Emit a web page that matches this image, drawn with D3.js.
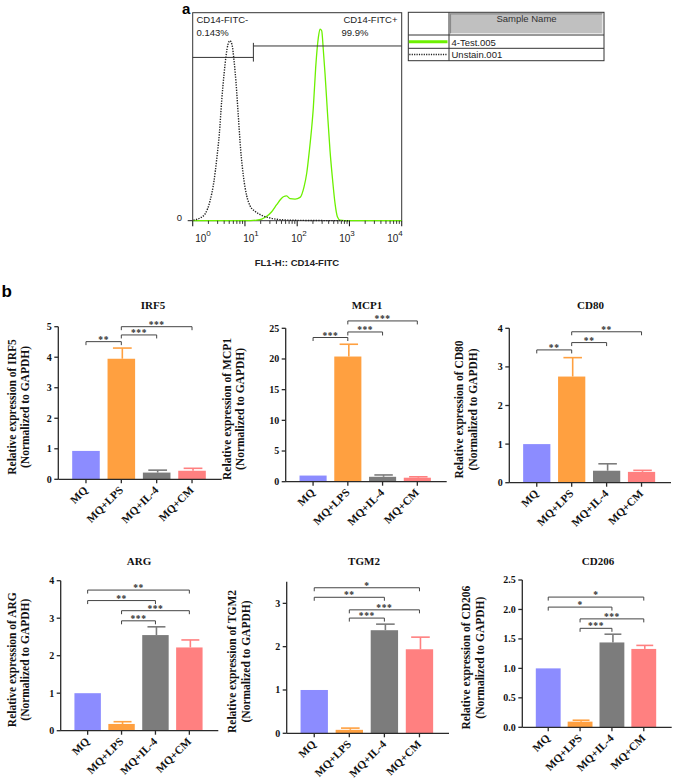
<!DOCTYPE html>
<html><head><meta charset="utf-8">
<script src="https://cdn.jsdelivr.net/npm/d3@7"></script>
<style>body{margin:0;background:#fff} svg{display:block}</style>
</head><body>
<svg id="c" width="675" height="781"></svg>
<script>
// ---------- DATA ----------
// panel a: flow cytometry histograms (FL1-H intensity, % of max count)
const greenFL    = [1, 10, 16.8, 20.9, 26.1, 32.5, 40.5, 48.3, 54.4, 62.9, 72.9, 90.9, 113.3, 135.2, 152.1, 171, 189.7, 203.7, 225.9, 254.1, 273.5, 294.4, 316.9, 341.2, 377.6, 424.6, 477.5, 529.7, 587.5, 660.7, 1000, 10000];
const greenCount = [0, 0, 0.3, 0.8, 2.1, 4.3, 7.7, 10.3, 11.5, 11.9, 10.6, 10.4, 11.2, 16.3, 22.8, 33.7, 44.9, 54.5, 73.7, 88.1, 92.1, 91.3, 81.7, 70.5, 52.9, 33.7, 19.2, 8.3, 1.9, 0.3, 0, 0];
const unstainFL    = [1.03, 1.38, 1.72, 2.15, 2.56, 2.88, 3.24, 3.59, 3.98, 4.35, 4.75, 5.18, 5.66, 6.18, 6.75, 7.48, 8.29, 9.33, 10.8, 12.5, 15.6, 20.9, 30.2, 46.9, 84.5, 1026];
const unstainCount = [0.3, 1.3, 3.2, 9.6, 19.2, 29.5, 42, 57.7, 70.5, 79.3, 84.9, 86.5, 84.6, 77, 66.3, 50, 34, 21.5, 12, 7.2, 4.5, 2.6, 1.3, 0.5, 0.2, 0];
const flowTicks = [1, 10, 100, 1000, 10000];
const flowTickExp = ["0", "1", "2", "3", "4"];
const gateLabels = ["CD14-FITC-", "0.143%", "CD14-FITC+", "99.9%"];
const gateSplit = 14.5; // FL1 value separating the two gates
const legendNames = ["4-Test.005", "Unstain.001"];

// panel b: qPCR bar charts
const categories = ["MQ", "MQ+LPS", "MQ+IL-4", "MQ+CM"];
const geneNames = ["IRF5", "MCP1", "CD80", "ARG", "TGM2", "CD206"];

const irf5Mean = [0.93, 3.95, 0.22, 0.28];
const irf5Sem  = [0, 0.35, 0.08, 0.08];
const irf5Ticks = [0, 1, 2, 3, 4, 5];
const irf5Sig = [["MQ","MQ+LPS","**",4.51],["MQ+LPS","MQ+IL-4","***",4.73],["MQ+LPS","MQ+CM","***",5.0]];

const mcp1Mean = [1.0, 20.4, 0.8, 0.65];
const mcp1Sem  = [0, 2.0, 0.3, 0.15];
const mcp1Ticks = [0, 5, 10, 15, 20, 25];
const mcp1Sig = [["MQ","MQ+LPS","***",23.5],["MQ+LPS","MQ+IL-4","***",24.4],["MQ+LPS","MQ+CM","***",26.2]];

const cd80Mean = [1.0, 2.75, 0.31, 0.28];
const cd80Sem  = [0, 0.49, 0.18, 0.04];
const cd80Ticks = [0, 1, 2, 3, 4];
const cd80Sig = [["MQ","MQ+LPS","**",3.44],["MQ+LPS","MQ+IL-4","**",3.63],["MQ+LPS","MQ+CM","**",3.91]];

const argMean = [1.0, 0.18, 2.55, 2.22];
const argSem  = [0, 0.06, 0.22, 0.2];
const argTicks = [0, 1, 2, 3, 4];
const argSig = [["MQ","MQ+CM","**",3.75],["MQ","MQ+IL-4","**",3.47],["MQ+LPS","MQ+CM","***",3.2],["MQ+LPS","MQ+IL-4","***",2.93]];

const tgm2Mean = [1.0, 0.08, 2.38, 1.94];
const tgm2Sem  = [0, 0.04, 0.14, 0.28];
const tgm2Ticks = [0, 1, 2, 3];
const tgm2Sig = [["MQ","MQ+CM","*",3.36],["MQ","MQ+IL-4","**",3.14],["MQ+LPS","MQ+CM","***",2.85],["MQ+LPS","MQ+IL-4","***",2.66]];

const cd206Mean = [1.0, 0.096, 1.44, 1.33];
const cd206Sem  = [0, 0.024, 0.14, 0.06];
const cd206Ticks = [0, 0.5, 1.0, 1.5, 2.0, 2.5];
const cd206Sig = [["MQ","MQ+CM","*",2.21],["MQ","MQ+IL-4","*",2.04],["MQ+LPS","MQ+CM","***",1.84],["MQ+LPS","MQ+IL-4","***",1.68]];

const yMax = [5, 25, 4, 4, 3.5, 2.5];
const barColors = ["#8c8cff", "#ffa040", "#7c7c7c", "#ff8080"];

// ---------- LAYOUT ----------
const svg = d3.select("#c");
const SANS = "Liberation Sans, Arial, sans-serif";
const SERIF = "Liberation Serif, Times New Roman, serif";
const R45 = 0.70710678;

// ===== Panel a =====
svg.append("text").attr("x", 182).attr("y", 13.5).attr("font-family", SANS)
  .attr("font-weight", "bold").attr("font-size", 15).text("a");

const fx = d3.scaleLog().domain([1, 10000]).range([192.7, 401.7]);
const fy = d3.scaleLinear().domain([0, 100]).range([220.7, 12.7]);
const gA = svg.append("g");

gA.append("rect").attr("x", fx(1)).attr("y", fy(100)).attr("width", fx(10000) - fx(1))
  .attr("height", fy(0) - fy(100)).attr("fill", "none").attr("stroke", "#333").attr("stroke-width", 1);

const line = d3.line().x(d => fx(d[0])).y(d => fy(d[1])).curve(d3.curveMonotoneX);
gA.append("path").datum(d3.zip(greenFL, greenCount)).attr("d", line)
  .attr("fill", "none").attr("stroke", "#6cf000").attr("stroke-width", 1.3);
gA.append("path").datum(d3.zip(unstainFL, unstainCount)).attr("d", line)
  .attr("fill", "none").attr("stroke", "#222").attr("stroke-width", 1.4).attr("stroke-dasharray", "1.3,1.3");

// gates
gA.append("line").attr("x1", fx(1)).attr("x2", fx(gateSplit)).attr("y1", fy(78.5)).attr("y2", fy(78.5)).attr("stroke", "#333");
gA.append("line").attr("x1", fx(gateSplit)).attr("x2", fx(10000)).attr("y1", fy(84)).attr("y2", fy(84)).attr("stroke", "#333");
gA.append("line").attr("x1", fx(gateSplit)).attr("x2", fx(gateSplit)).attr("y1", fy(85.5)).attr("y2", fy(76.5)).attr("stroke", "#333");

gA.append("text").attr("x", 196.5).attr("y", 23).attr("font-family", SANS).attr("font-size", 9.5).attr("fill", "#222").text(gateLabels[0]);
gA.append("text").attr("x", 196.5).attr("y", 36).attr("font-family", SANS).attr("font-size", 9.5).attr("fill", "#222").text(gateLabels[1]);
gA.append("text").attr("x", 397.5).attr("y", 23).attr("text-anchor", "end").attr("font-family", SANS).attr("font-size", 9.5).attr("fill", "#222").text(gateLabels[2]);
gA.append("text").attr("x", 341.5).attr("y", 36).attr("font-family", SANS).attr("font-size", 9.5).attr("fill", "#222").text(gateLabels[3]);

// x axis ticks (major + minor)
const minor = [];
for (let e = 0; e < 4; e++) for (let m = 2; m <= 9; m++) minor.push(m * Math.pow(10, e));
gA.selectAll(".mn").data(minor).enter().append("line")
  .attr("x1", d => fx(d)).attr("x2", d => fx(d)).attr("y1", fy(0)).attr("y2", fy(0) + 3.2).attr("stroke", "#222").attr("stroke-width", 0.9);
gA.selectAll(".mj").data(flowTicks).enter().append("line")
  .attr("x1", d => fx(d)).attr("x2", d => fx(d)).attr("y1", fy(0)).attr("y2", fy(0) + 5.5).attr("stroke", "#222").attr("stroke-width", 1.1);
const fxLab = d3.scaleLog().domain([1, 10000]).range([203, 395]);
flowTicks.forEach((t, i) => {
  const tx = gA.append("text").attr("x", fxLab(t)).attr("y", 241.5).attr("text-anchor", "middle")
    .attr("font-family", SANS).attr("font-size", 10).attr("fill", "#222");
  tx.append("tspan").text("10");
  tx.append("tspan").attr("dy", -6).attr("font-size", 8).text(flowTickExp[i]);
});
gA.append("text").attr("x", 182).attr("y", fy(0)).attr("text-anchor", "end").attr("font-family", SANS)
  .attr("font-size", 9.5).attr("fill", "#222").text("0");
gA.append("line").attr("x1", fx(1) - 5).attr("x2", fx(1)).attr("y1", fy(0)).attr("y2", fy(0)).attr("stroke", "#222");
gA.append("text").attr("x", 297).attr("y", 266).attr("text-anchor", "middle").attr("font-family", SANS)
  .attr("font-weight", "bold").attr("font-size", 9.5).attr("fill", "#222").text("FL1-H:: CD14-FITC");

// legend table
const lg = svg.append("g");
const tL = 408.3, tR = 604, tT = 12.3, tB = 60.7, colX = 449, hB = 35, r1B = 48.3;
lg.append("rect").attr("x", colX + 1).attr("y", tT + 1).attr("width", tR - colX - 2).attr("height", hB - tT - 2).attr("fill", "#c0c0c0");
lg.append("path").attr("d", `M${colX + 1.5},${hB - 1.5}V${tT + 1.5}H${tR - 1.5}`).attr("fill", "none").attr("stroke", "#8a8a8a").attr("stroke-width", 1.2);
lg.append("path").attr("d", `M${colX + 1.5},${hB - 1.5}H${tR - 1.5}V${tT + 1.5}`).attr("fill", "none").attr("stroke", "#e6e6e6").attr("stroke-width", 1.2);
lg.append("rect").attr("x", tL).attr("y", tT).attr("width", tR - tL).attr("height", tB - tT).attr("fill", "none").attr("stroke", "#333");
lg.append("line").attr("x1", colX).attr("x2", colX).attr("y1", tT).attr("y2", tB).attr("stroke", "#333");
lg.append("line").attr("x1", tL).attr("x2", tR).attr("y1", hB).attr("y2", hB).attr("stroke", "#333");
lg.append("line").attr("x1", tL).attr("x2", tR).attr("y1", r1B).attr("y2", r1B).attr("stroke", "#333");
lg.append("text").attr("x", (colX + tR) / 2).attr("y", 22).attr("text-anchor", "middle").attr("font-family", SANS).attr("font-size", 9.5).attr("fill", "#333").text("Sample Name");
lg.append("line").attr("x1", tL + 0.5).attr("x2", colX - 1.5).attr("y1", 41.7).attr("y2", 41.7).attr("stroke", "#6cf000").attr("stroke-width", 3);
lg.append("line").attr("x1", tL + 1).attr("x2", colX - 1.5).attr("y1", 54.4).attr("y2", 54.4).attr("stroke", "#222").attr("stroke-width", 1.5).attr("stroke-dasharray", "1.2,1.2");
legendNames.forEach((n, i) => {
  lg.append("text").attr("x", colX + 2.5).attr("y", 45.8 + i * 12.4).attr("font-family", SANS).attr("font-size", 9.5).attr("fill", "#222").text(n);
});

// ===== Panel b =====
svg.append("text").attr("x", 1.5).attr("y", 296.5).attr("font-family", SANS)
  .attr("font-weight", "bold").attr("font-size", 17).text("b");

const charts = [
  {name: geneNames[0], mean: irf5Mean, sem: irf5Sem, ticks: irf5Ticks, sig: irf5Sig, max: yMax[0], fmt: d3.format("d"),
   L: 58.3, R: 221.7, top: 326.7, bot: 479.3, titleX: 153, titleY: 308.5, yl: [15.5, 28.5]},
  {name: geneNames[1], mean: mcp1Mean, sem: mcp1Sem, ticks: mcp1Ticks, sig: mcp1Sig, max: yMax[1], fmt: d3.format("d"),
   L: 285.7, R: 446.7, top: 328.3, bot: 481.7, titleX: 367, titleY: 308.5, yl: [231, 244]},
  {name: geneNames[2], mean: cd80Mean, sem: cd80Sem, ticks: cd80Ticks, sig: cd80Sig, max: yMax[2], fmt: d3.format("d"),
   L: 509.3, R: 671, top: 328.3, bot: 482.7, titleX: 590.5, titleY: 308.5, yl: [463, 477]},
  {name: geneNames[3], mean: argMean, sem: argSem, ticks: argTicks, sig: argSig, max: yMax[3], fmt: d3.format("d"),
   L: 60.7, R: 218.3, top: 580.7, bot: 730.7, titleX: 139, titleY: 564.5, yl: [16, 29]},
  {name: geneNames[4], mean: tgm2Mean, sem: tgm2Sem, ticks: tgm2Ticks, sig: tgm2Sig, max: yMax[4], fmt: d3.format("d"),
   L: 286.7, R: 449, top: 581.7, bot: 733.3, titleX: 364, titleY: 564.5, yl: [236, 250]},
  {name: geneNames[5], mean: cd206Mean, sem: cd206Sem, ticks: cd206Ticks, sig: cd206Sig, max: yMax[5], fmt: d3.format(".1f"),
   L: 522.3, R: 671.7, top: 580, bot: 727.3, titleX: 598, titleY: 564.5, yl: [470, 484]}
];

const AX = "#2a2a2a";
charts.forEach(c => {
  const g = svg.append("g");
  const y = d3.scaleLinear().domain([0, c.max]).range([c.bot, c.top]);
  const x = d3.scaleBand().domain(categories).range([c.L + 10, c.R - 12]).paddingInner(0.22).paddingOuter(0.11);
  const cx = k => x(k) + x.bandwidth() / 2;
  const bw = x.bandwidth();

  // title
  g.append("text").attr("x", c.titleX).attr("y", c.titleY).attr("text-anchor", "middle")
    .attr("font-family", SERIF).attr("font-weight", "bold").attr("font-size", 11).attr("fill", "#111").text(c.name);

  // bars
  g.selectAll(".bar").data(categories).enter().append("rect")
    .attr("x", k => cx(k) - bw / 2).attr("width", bw)
    .attr("y", (k, i) => y(c.mean[i])).attr("height", (k, i) => y(0) - y(c.mean[i]))
    .attr("fill", (k, i) => barColors[i]);

  // error bars (upper only)
  categories.forEach((k, i) => {
    if (c.sem[i] <= 0) return;
    const col = barColors[i];
    const ex = cx(k) + 1;
    g.append("line").attr("x1", ex).attr("x2", ex).attr("y1", y(c.mean[i])).attr("y2", y(c.mean[i] + c.sem[i]))
      .attr("stroke", col).attr("stroke-width", 1.6);
    g.append("line").attr("x1", ex - bw * 0.34).attr("x2", ex + bw * 0.34)
      .attr("y1", y(c.mean[i] + c.sem[i])).attr("y2", y(c.mean[i] + c.sem[i]))
      .attr("stroke", col).attr("stroke-width", 1.6);
  });

  // y axis
  g.append("line").attr("x1", c.L).attr("x2", c.L).attr("y1", y(c.max)).attr("y2", y(0)).attr("stroke", AX).attr("stroke-width", 1.3);
  g.selectAll(".yt").data(c.ticks).enter().append("line")
    .attr("x1", c.L - 4).attr("x2", c.L).attr("y1", d => y(d)).attr("y2", d => y(d)).attr("stroke", AX).attr("stroke-width", 1.3);
  g.selectAll(".yl").data(c.ticks).enter().append("text")
    .attr("x", c.L - 6.5).attr("y", d => y(d)).attr("dy", "0.34em").attr("text-anchor", "end")
    .attr("font-family", SERIF).attr("font-weight", "bold").attr("font-size", 10).attr("fill", "#111").text(d => c.fmt(d));

  // x axis
  g.append("line").attr("x1", c.L).attr("x2", c.R).attr("y1", y(0)).attr("y2", y(0)).attr("stroke", AX).attr("stroke-width", 1.3);
  g.selectAll(".xt").data(categories).enter().append("line")
    .attr("x1", k => cx(k)).attr("x2", k => cx(k)).attr("y1", y(0)).attr("y2", y(0) + 4).attr("stroke", AX).attr("stroke-width", 1.3);
  g.selectAll(".xl").data(categories).enter().append("text")
    .attr("transform", k => `matrix(${R45},${-R45},${R45},${R45},${cx(k) + 2.5},${y(0) + 11.5})`)
    .attr("text-anchor", "end").attr("font-family", SERIF).attr("font-weight", "bold").attr("font-size", 11.2).attr("fill", "#111").text(k => k);

  // y label
  const yc = (c.top + c.bot) / 2 + 4;
  [`Relative expression of ${c.name}`, "(Normalized to GAPDH)"].forEach((t, i) => {
    g.append("text").attr("transform", `translate(${c.yl[i]},${yc}) rotate(-90)`).attr("text-anchor", "middle")
      .attr("font-family", SERIF).attr("font-weight", "bold").attr("font-size", 11.5).attr("fill", "#111").text(t);
  });

  // significance brackets
  c.sig.forEach(s => {
    const x1 = cx(s[0]), x2 = cx(s[1]), yy = y(s[3]);
    g.append("path").attr("d", `M${x1},${yy + 3.5}V${yy}H${x2}V${yy + 3.5}`)
      .attr("fill", "none").attr("stroke", "#444").attr("stroke-width", 1);
    g.append("text").attr("x", (x1 + x2) / 2).attr("y", yy + 1).attr("text-anchor", "middle")
      .attr("font-family", SERIF).attr("font-weight", "bold").attr("font-size", 9.5).attr("letter-spacing", 0.6).attr("fill", "#333").text(s[2]);
  });
});
</script>
</body></html>
